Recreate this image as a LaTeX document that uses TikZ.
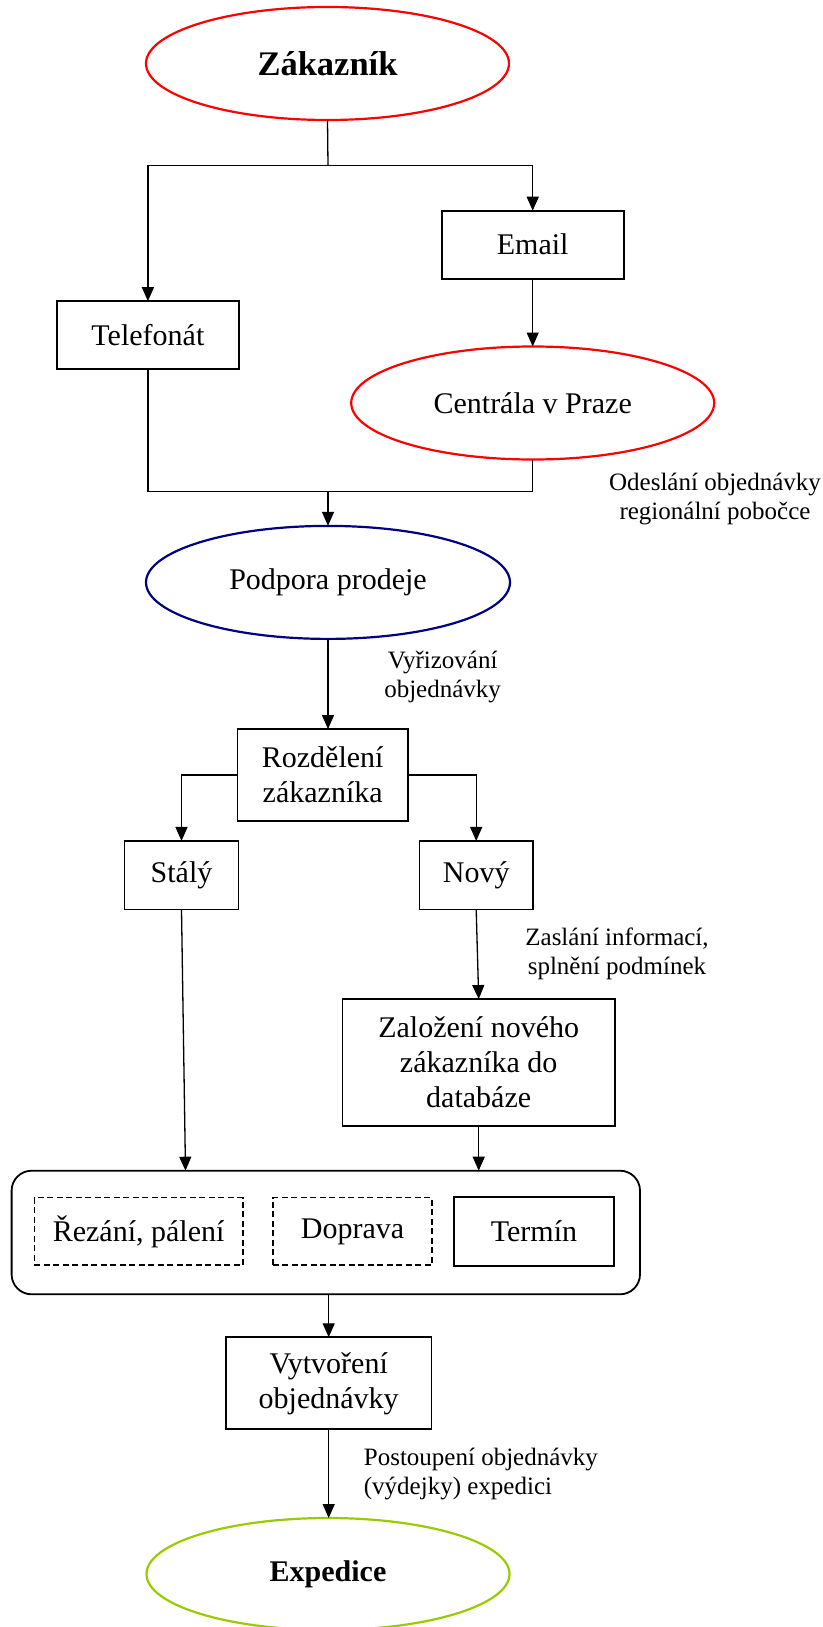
\documentclass[tikz,border=0pt]{standalone}
\usepackage{fontspec}
\setmainfont{Liberation Serif}
\usetikzlibrary{shapes.geometric,arrows.meta}

\definecolor{ovalred}{RGB}{255,0,0}
\definecolor{ovalnavy}{RGB}{0,0,128}
\definecolor{ovalgreen}{RGB}{153,204,0}

\begin{document}
\begin{tikzpicture}[x=1pt,y=-1pt,
  every node/.style={inner sep=0pt, outer sep=0pt},
  main/.style={font=\fontsize{30}{35}\selectfont, align=center},
  note/.style={font=\fontsize{25}{28.5}\selectfont, align=center},
  oval/.style={ellipse, draw, line width=2.2pt, main},
  box/.style={rectangle, draw, line width=1.8pt, main},
  dbox/.style={rectangle, draw, line width=1.3pt, dash pattern=on 6pt off 3.5pt, main},
  group/.style={rectangle, draw, line width=1.8pt, rounded corners=20pt},
  link/.style={line width=1.3pt},
  arr/.style={link, -{Triangle[length=14pt,width=12pt]}},
]
\useasboundingbox (0,0) rectangle (822,1627);

% ---------- nodes ----------
\node[oval, draw=ovalred, minimum width=363pt, minimum height=113pt,
      font=\fontsize{34.5}{40}\selectfont\bfseries] (zak) at (327.5,63.5) {Zákazník};
\node[box, minimum width=182pt, minimum height=68pt] (email) at (532.7,244.7) {Email};
\node[box, minimum width=182pt, minimum height=68pt] (tel) at (147.9,335.2) {Telefonát};
\node[oval, draw=ovalred, minimum width=363pt, minimum height=113pt] (cen) at (532.7,403) {Centrála v Praze};
\node[oval, draw=ovalnavy, minimum width=364pt, minimum height=113pt] (pod) at (328,582.4) {Podpora prodeje};
\node[box, minimum width=170.4pt, minimum height=91.7pt] (roz) at (322.7,774.9) {Rozdělení\\zákazníka};
\node[box, minimum width=114pt, minimum height=68.5pt] (sta) at (181.5,875.2) {Stálý};
\node[box, minimum width=113.5pt, minimum height=68.5pt] (nov) at (476.2,875.2) {Nový};
\node[box, minimum width=272.4pt, minimum height=126.7pt] (zal) at (478.7,1062.4) {Založení nového\\zákazníka do\\databáze};
\node[group, minimum width=628.4pt, minimum height=123.6pt] (cont) at (325.8,1232.5) {};
\node[dbox, minimum width=208.7pt, minimum height=67.3pt] (rez) at (138.6,1231.4) {Řezání, pálení};
\node[dbox, minimum width=159.1pt, minimum height=67.3pt] (dop) at (352.5,1231.4) {Doprava};
\node[box, minimum width=159.6pt, minimum height=69.3pt] (ter) at (534,1231.4) {Termín};
\node[box, minimum width=205.6pt, minimum height=92pt] (vyt) at (328.7,1383.3) {Vytvoření\\objednávky};
\node[oval, draw=ovalgreen, minimum width=363pt, minimum height=112pt,
      font=\fontsize{30}{35}\selectfont\bfseries] (exp) at (328,1574) {Expedice};

% ---------- labels ----------
\node[note] (l1) at (715,499) {Odeslání objednávky\\regionální pobočce};
\node[note] (l2) at (442.6,677) {Vyřizování\\objednávky};
\node[note] (l3) at (617,954) {Zaslání informací,\\splnění podmínek};
\node[note, align=left, anchor=west] (l4) at (363.9,1474) {Postoupení objednávky\\(výdejky) expedici};

% ---------- connectors ----------
\coordinate (split) at (328,165.7);
\draw[link] (zak.south) -- (split);
\draw[arr] (split) -| (tel.north);
\draw[arr] (split) -| (email.north);
\draw[arr] (email.south) -- (cen.north);

\coordinate (merge) at (328,491.7);
\draw[link] (tel.south) |- (merge);
\draw[link] (cen.south) |- (merge);
\draw[arr] (merge) -- (pod.north);

\draw[arr] (pod.south) -- (pod.south |- roz.north);
\draw[arr] (roz.west) -| (sta.north);
\draw[arr] (roz.east) -| (nov.north);

\coordinate (inA) at (185.5,1170.7);
\draw[arr] (sta.south) -- (inA);
\draw[arr] (nov.south) -- (zal.north);
\draw[arr] (zal.south) -- (zal.south |- cont.north);

\draw[arr] (vyt.north |- cont.south) -- (vyt.north);
\draw[arr] (vyt.south) -- (vyt.south |- exp.north);
\end{tikzpicture}
\end{document}
